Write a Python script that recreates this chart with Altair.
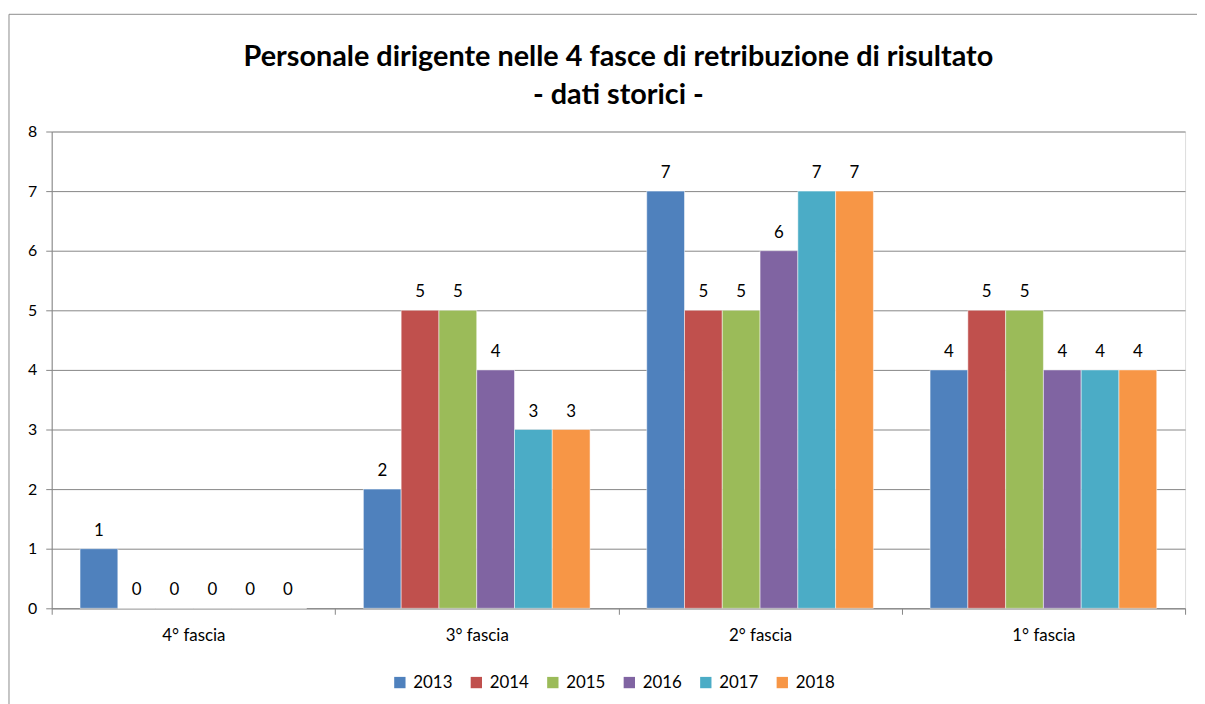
import altair as alt
import pandas as pd

categories = ["4° fascia", "3° fascia", "2° fascia", "1° fascia"]
years = ["2013", "2014", "2015", "2016", "2017", "2018"]
v2013 = [1, 2, 7, 4]
v2014 = [0, 5, 5, 5]
v2015 = [0, 5, 5, 5]
v2016 = [0, 4, 6, 4]
v2017 = [0, 3, 7, 4]
v2018 = [0, 3, 7, 4]
colors = ["#4F81BD", "#C0504D", "#9BBB59", "#8064A2", "#4BACC6", "#F79646"]

series = [v2013, v2014, v2015, v2016, v2017, v2018]
rows = []
for y, vals in zip(years, series):
    for c, v in zip(categories, vals):
        rows.append({"fascia": c, "anno": y, "valore": v})
df = pd.DataFrame(rows)

FONT = "Lato"
W, H = 1141, 480

x = alt.X("fascia:N", sort=categories, title=None,
          scale=alt.Scale(paddingInner=0, paddingOuter=0),
          axis=alt.Axis(labelAngle=0, labelFontSize=17, labelColor="#000000",
                        labelFont=FONT, tickBand="extent", tickSize=6,
                        tickColor="#868686", domainColor="#868686",
                        labelPadding=13, grid=False))
xo = alt.XOffset("anno:N", sort=years,
                 scale=alt.Scale(paddingInner=0, paddingOuter=0.75))
yenc = alt.Y("valore:Q", title=None,
             scale=alt.Scale(domain=[0, 8]),
             axis=alt.Axis(values=list(range(9)), format="d", labelFontSize=16,
                           labelColor="#000000", labelFont=FONT,
                           tickSize=6, tickColor="#868686",
                           domainColor="#868686", gridColor="#868686",
                           labelPadding=9))
color = alt.Color("anno:N", sort=years,
                  scale=alt.Scale(domain=years, range=colors),
                  legend=alt.Legend(title=None, orient="none",
                                    legendX=342, legendY=546,
                                    direction="horizontal",
                                    symbolType="square", symbolSize=130,
                                    symbolStrokeWidth=0,
                                    labelFontSize=17, labelFont=FONT,
                                    labelColor="#000000",
                                    columnPadding=15,
                                    labelOffset=5))

base = alt.Chart(df)
bars = base.mark_bar(stroke="white", strokeWidth=0.5).encode(
    x=x, xOffset=xo, y=yenc, color=color)
labels = base.mark_text(dy=-9, baseline="bottom", fontSize=17,
                        font=FONT, color="#000000").encode(
    x=x, xOffset=xo, y=alt.Y("valore:Q"), text=alt.Text("valore:Q"))

frame = alt.Chart(pd.DataFrame({"a": [0]})).mark_rect(
    fill=None, stroke="#8c8c8c", strokeWidth=1).encode(
    x=alt.value(-43), x2=alt.value(W + 14),
    y=alt.value(-118), y2=alt.value(H + 100))

chart = alt.layer(frame, bars, labels).properties(
    width=W, height=H,
    title=alt.Title(["Personale dirigente nelle 4 fasce di retribuzione di risultato",
                     "- dati storici -"],
                    fontSize=29, font=FONT, fontWeight="bold",
                    color="#000000", anchor="middle", lineHeight=38,
                    offset=-97, frame="group"),
    autosize=alt.AutoSizeParams(type="none"),
    padding={"left": 44, "top": 122, "right": 12, "bottom": 94},
).configure_view(stroke=None).configure(background="white")

chart.save("out.html", embed_options={"renderer": "svg", "actions": False})
